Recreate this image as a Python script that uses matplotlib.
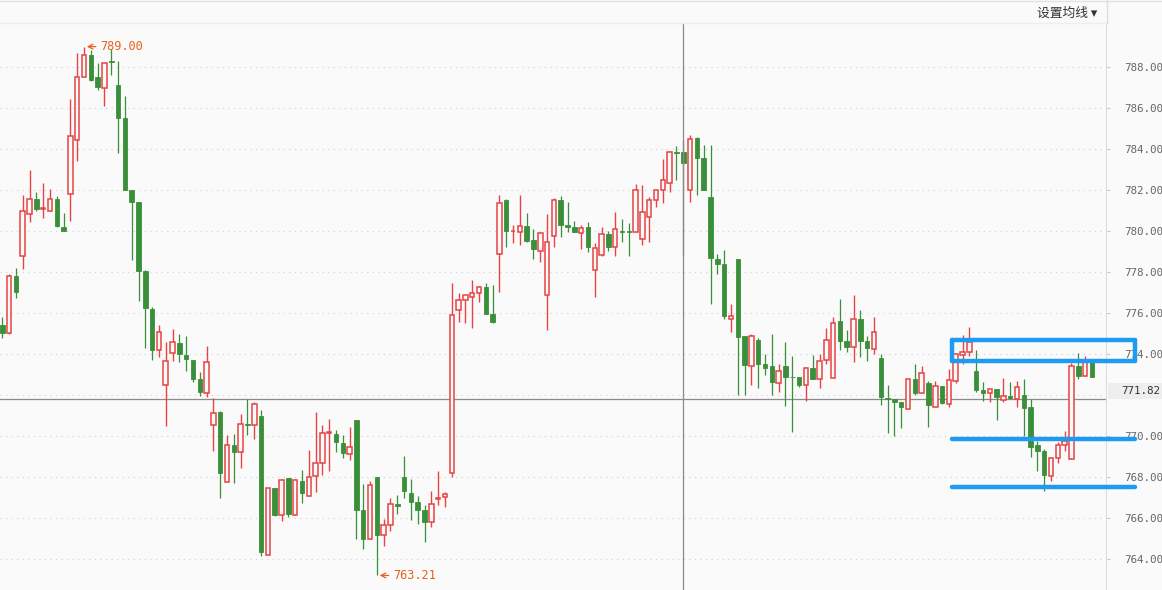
import matplotlib
matplotlib.use("Agg")
import matplotlib.pyplot as plt
from matplotlib.patches import Rectangle
from matplotlib.lines import Line2D
import numpy as np

plt.rcParams['font.family'] = ['Noto Sans CJK SC', 'DejaVu Sans']

# OHLC, one entry per candle
opens = [775.43, 775.01, 777.81, 778.77, 780.86, 781.57, 781.07, 781.00, 781.57, 780.20,
         781.80, 784.43, 787.51, 788.59, 787.51, 786.97, 788.28, 787.13, 785.53, 782.00,
         781.42, 778.06, 776.21, 774.22, 772.48, 774.05, 774.54, 773.96, 773.72, 772.80,
         772.13, 770.57, 771.18, 767.78, 769.57, 769.21, 770.60, 770.57, 770.98, 764.19,
         767.47, 766.14, 767.97, 766.18, 767.82, 767.10, 768.04, 768.69, 770.15, 770.11,
         769.66, 769.12, 770.79, 766.40, 764.98, 768.01, 765.17, 765.69, 766.68, 768.01,
         767.22, 766.77, 766.39, 765.80, 766.93, 767.03, 768.20, 776.14, 776.63, 776.77,
         776.98, 777.29, 775.95, 778.87, 781.52, 780.00, 779.97, 780.23, 779.55, 779.05,
         776.87, 779.78, 781.50, 780.30, 780.20, 779.90, 780.20, 778.09, 778.82, 779.85,
         779.22, 780.00, 780.00, 779.94, 779.61, 780.69, 781.50, 781.99, 782.37, 783.87,
         783.86, 781.99, 784.53, 783.58, 781.66, 778.65, 778.40, 775.70, 778.65, 774.89,
         773.44, 774.69, 773.51, 773.41, 772.59, 773.41, 772.90, 772.88, 772.48, 773.34,
         772.78, 773.70, 772.83, 775.62, 774.64, 774.35, 775.70, 774.62, 774.24, 773.82,
         771.86, 771.79, 771.66, 771.32, 772.78, 772.13, 772.60, 771.44, 772.43, 771.59,
         772.71, 773.98, 774.09, 773.18, 772.26, 772.10, 772.31, 771.75, 771.98, 771.79,
         772.01, 771.42, 769.57, 769.26, 768.08, 768.96, 769.56, 768.91, 773.41, 772.92,
         773.61]
highs = [775.79, 777.90, 778.21, 781.77, 782.98, 781.89, 782.36, 782.06, 781.71, 780.89,
         786.45, 788.70, 789.00, 788.85, 788.21, 788.19, 788.90, 788.30, 786.59, 782.00,
         781.42, 778.11, 776.30, 775.43, 774.59, 775.22, 774.97, 774.89, 773.72, 773.13,
         774.40, 771.87, 771.23, 770.06, 770.11, 771.09, 771.82, 771.68, 771.28, 767.47,
         767.47, 767.90, 767.97, 767.90, 768.36, 769.33, 771.18, 770.55, 770.85, 770.31,
         770.06, 770.45, 770.79, 767.68, 767.82, 768.01, 765.95, 767.00, 767.12, 769.03,
         767.90, 767.07, 766.65, 767.31, 768.29, 767.26, 777.46, 776.99, 776.87, 777.62,
         777.34, 777.46, 777.36, 781.77, 781.57, 780.30, 781.77, 780.89, 780.09, 779.97,
         780.82, 781.61, 781.71, 781.42, 780.49, 780.30, 780.44, 779.41, 780.20, 780.01,
         780.93, 780.60, 780.41, 782.31, 782.25, 781.66, 781.99, 783.52, 783.91, 784.15,
         784.43, 784.67, 784.59, 784.20, 784.20, 778.89, 779.08, 776.45, 778.65, 774.89,
         774.97, 774.80, 774.02, 774.99, 773.53, 774.59, 773.91, 772.88, 773.37, 773.96,
         774.02, 775.29, 775.81, 776.70, 775.18, 776.89, 776.14, 774.89, 775.81, 774.00,
         772.50, 771.79, 771.66, 772.78, 773.53, 773.42, 772.69, 772.69, 772.43, 773.28,
         774.00, 774.92, 775.32, 774.21, 772.64, 772.29, 772.31, 772.85, 772.64, 772.69,
         772.80, 771.79, 769.78, 769.38, 769.00, 769.70, 770.24, 773.58, 774.05, 773.89,
         773.61]
lows = [774.80, 775.00, 776.75, 778.13, 780.46, 781.00, 780.62, 781.00, 780.22, 780.02,
        780.51, 783.44, 787.51, 787.34, 786.90, 786.12, 787.63, 783.79, 782.03, 778.61,
        776.61, 774.28, 773.74, 773.88, 770.51, 773.68, 773.60, 773.20, 772.66, 771.98,
        771.93, 769.30, 767.00, 767.78, 767.73, 768.46, 770.08, 769.87, 764.18, 764.19,
        766.13, 765.88, 766.04, 766.18, 766.72, 767.10, 767.26, 768.13, 768.32, 769.23,
        768.96, 768.86, 765.01, 764.52, 764.98, 763.21, 764.63, 765.39, 766.21, 767.00,
        765.92, 765.74, 764.82, 765.55, 766.63, 766.53, 768.02, 775.58, 775.53, 775.30,
        776.54, 775.95, 775.53, 777.05, 779.21, 779.43, 779.33, 779.47, 778.65, 778.49,
        775.20, 779.24, 779.73, 779.94, 779.94, 779.15, 779.00, 776.80, 778.77, 779.05,
        778.80, 779.48, 778.80, 779.94, 779.34, 779.45, 781.16, 781.35, 781.89, 782.51,
        778.80, 781.40, 781.78, 782.03, 776.47, 777.93, 775.70, 775.06, 772.03, 772.03,
        772.52, 772.33, 773.00, 772.03, 772.17, 771.49, 770.22, 772.38, 771.73, 772.81,
        772.33, 773.54, 772.83, 774.22, 774.12, 773.60, 773.84, 773.68, 774.03, 771.54,
        770.17, 770.01, 770.38, 771.32, 772.01, 772.13, 770.43, 771.44, 771.58, 771.44,
        772.60, 773.54, 773.93, 772.17, 771.73, 771.65, 770.81, 771.65, 771.80, 771.44,
        770.01, 768.98, 768.30, 767.35, 767.82, 768.70, 769.30, 768.91, 772.80, 772.92,
        772.87]
closes = [775.04, 777.79, 777.01, 780.96, 781.56, 781.10, 781.14, 781.56, 780.27, 780.02,
          784.62, 787.51, 788.59, 787.39, 787.01, 788.19, 788.23, 785.54, 782.03, 781.43,
          778.07, 776.23, 774.22, 775.06, 773.65, 774.57, 774.00, 773.75, 772.81, 772.17,
          773.60, 771.12, 768.22, 769.57, 769.23, 770.58, 770.57, 771.56, 764.33, 767.47,
          766.18, 767.85, 766.23, 767.85, 767.21, 768.01, 768.69, 770.15, 770.20, 769.70,
          769.16, 769.47, 766.42, 765.01, 767.61, 765.20, 765.69, 766.68, 766.61, 767.35,
          766.81, 766.42, 765.83, 766.68, 767.01, 767.17, 775.90, 776.63, 776.87, 776.98,
          777.29, 775.95, 775.58, 781.36, 780.02, 780.02, 780.23, 779.52, 779.15, 779.92,
          779.45, 781.50, 780.32, 780.22, 779.94, 780.15, 779.21, 779.19, 779.85, 779.24,
          780.09, 779.97, 779.97, 781.99, 780.91, 781.50, 781.99, 782.48, 783.86, 783.82,
          783.32, 784.48, 783.59, 782.03, 778.67, 778.42, 775.88, 775.84, 774.82, 773.49,
          774.87, 773.54, 773.35, 772.62, 773.16, 772.90, 772.87, 772.52, 773.32, 772.81,
          773.65, 774.68, 775.51, 774.66, 774.36, 775.70, 774.66, 774.28, 775.06, 771.91,
          771.80, 771.68, 771.40, 772.78, 772.12, 773.07, 771.52, 772.43, 771.63, 772.73,
          774.00, 774.09, 774.61, 772.27, 772.13, 772.29, 771.89, 771.96, 771.87, 772.40,
          771.39, 769.49, 769.30, 768.13, 768.95, 769.57, 769.77, 773.41, 772.95, 773.61,
          772.87]

grid_prices = [764, 766, 768, 770, 772, 774, 776, 778, 780, 782, 784, 786, 788]
# 772.00 sits under the last-price tag in the reference, so it gets no label
label_prices = [764, 766, 768, 770, 774, 776, 778, 780, 782, 784, 786, 788]
last_price = 771.82
max_idx, max_label = 12, "789.00"
min_idx, min_label = 55, "763.21"
crosshair_idx = 100
# hand-drawn blue marks: box and two support lines (prices), span in candle units
box_prices = [773.68, 774.69]
support_prices = [769.85, 767.54]
mark_start, mark_end = 139.45, 166.3

bg = '#fafafa'
red = '#e84343'
green = '#3a8f3a'
blue = '#1e9bf0'

W, H = 1162, 590
fig = plt.figure(figsize=(W / 100, H / 100), dpi=100, facecolor=bg)
ax = fig.add_axes([0, 0, 1106 / W, 567 / H], facecolor=bg)
ax.set_xlim(-0.338, 162.07)
ax.set_ylim(762.50, 790.15)

# grid
for p in grid_prices:
    ax.axhline(p, color='#cfcfcf', lw=0.8, ls=(0, (1, 4)), zorder=0)

# candles
bw = 0.66
for i, (o, h, l, c) in enumerate(zip(opens, highs, lows, closes)):
    up = c > o
    col = red if up else green
    top, bot = max(o, c), min(o, c)
    ax.vlines(i, l, h, color=col, lw=1.0 if up else 0.9, zorder=2)
    if up:
        ax.add_patch(Rectangle((i - bw / 2, bot), bw, top - bot, facecolor=bg,
                               edgecolor=col, lw=1.1, zorder=3))
    else:
        ax.add_patch(Rectangle((i - bw / 2, bot), bw, top - bot, facecolor=col,
                               edgecolor=col, lw=0.6, zorder=3))

# crosshair + last price line
ax.axvline(crosshair_idx, color='#8a8a8a', lw=0.9, zorder=4)
ax.axhline(last_price, color='#8a8a8a', lw=0.9, zorder=1)

# high / low markers
ann = dict(color='#e8601c', fontsize=8.6, family='DejaVu Sans Mono', va='center', ha='left',
           textcoords='offset pixels',
           arrowprops=dict(arrowstyle='->', color='#e8601c', lw=0.9, shrinkA=1, shrinkB=2))
ax.annotate(max_label, xy=(max_idx, highs[max_idx]), xytext=(16, 0), **ann)
ax.annotate(min_label, xy=(min_idx, lows[min_idx]), xytext=(16, 0), **ann)

# blue hand-drawn marks
bkw = dict(color=blue, lw=3.2, solid_capstyle='round', clip_on=False, zorder=6)
ax.plot([mark_start, mark_end], [box_prices[1]] * 2, **bkw)
ax.plot([mark_start, mark_end], [box_prices[0]] * 2, **bkw)
ax.plot([mark_start, mark_start], box_prices, **bkw)
ax.plot([mark_end, mark_end], box_prices, **bkw)
for p in support_prices:
    ax.plot([mark_start, mark_end], [p, p], **bkw)

# right price axis
ax.set_xticks([])
ax.yaxis.tick_right()
ax.set_yticks(label_prices)
ax.set_yticklabels([f"{p:.2f}" for p in label_prices], family='DejaVu Sans Mono')
ax.tick_params(axis='y', length=3, color='#cccccc', labelsize=7.8, labelcolor='#666666', pad=10)
for s in ['left', 'top', 'bottom']:
    ax.spines[s].set_visible(False)
ax.spines['right'].set_color('#dddddd')

# last price tag
fig.patches.append(Rectangle((1108 / W, 1 - 399 / H), 54 / W, 16 / H, transform=fig.transFigure,
                             facecolor='#eeeeee', edgecolor='none', zorder=5))
fig.text(1121 / W, 1 - 391 / H, f"{last_price:.2f}", family='DejaVu Sans Mono', fontsize=7.8,
         color='#333333', va='center', ha='left', zorder=6)

# header
fig.add_artist(Line2D([0, 1], [1 - 1 / H] * 2, color='#e2e2e2', lw=1))
fig.add_artist(Line2D([0, 1106 / W], [1 - 23 / H] * 2, color='#eeeeee', lw=1))
fig.add_artist(Line2D([1106.5 / W] * 2, [1 - 23 / H, 1], color='#dddddd', lw=1))
fig.text(1097 / W, 1 - 13 / H, "设置均线 ▾", fontsize=9.2, color='#333333',
         family=['Noto Sans CJK SC', 'DejaVu Sans'], ha='right', va='center')

fig.savefig('out.png', dpi=100, facecolor=bg)
